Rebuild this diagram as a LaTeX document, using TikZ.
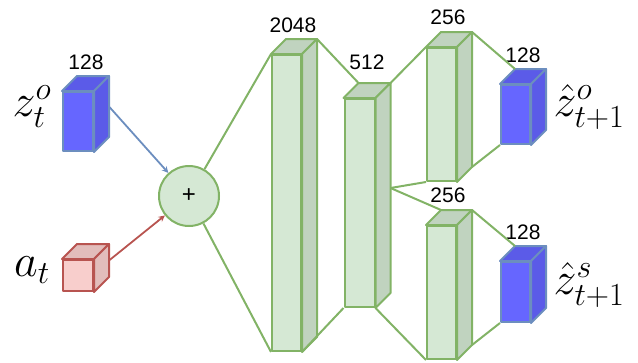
\RequirePackage{fix-cm}
\documentclass[tikz,border=0pt]{standalone}
\usepackage[no-math]{fontspec}
\setmainfont{Liberation Sans}
\usepackage{tikz}
\usetikzlibrary{arrows}
\usepackage{amsmath}

\definecolor{layerline}{HTML}{82B366}
\definecolor{layerfill}{HTML}{D5E8D4}
\definecolor{layerside}{HTML}{C0D3BF}
\definecolor{embline}{HTML}{6C8EBF}
\definecolor{embfill}{HTML}{6666FF}
\definecolor{embside}{HTML}{5B5BE8}
\definecolor{actline}{HTML}{B85450}
\definecolor{actfill}{HTML}{F8CECC}
\definecolor{actside}{HTML}{E2BDBB}

% #1 name, #2 centre of front face, #3 width, #4 height, #5 style
\newcommand{\block}[5]{
    \node[#5, minimum width=#3, minimum height=#4] (#1) at (#2) {};
    \coordinate (#1-tl) at ([shift={(15,-15)}]#1.north west);
    \coordinate (#1-tr) at ([shift={(15,-15)}]#1.north east);
    \coordinate (#1-br) at ([shift={(15,-15)}]#1.south east);
    \coordinate (#1-r) at ([shift={(15,-15)}]#1.east);
    \draw[#5 side] (#1.north west) -- (#1-tl) -- (#1-tr) -- (#1.north east) -- cycle;
    \draw[#5 side] (#1.north east) -- (#1-tr) -- (#1-br) -- (#1.south east) -- cycle;
}

\begin{document}
\begin{tikzpicture}[
            x = 1pt, y = -1pt, % pixel grid of the figure
            > = stealth, % arrow head style
            line join = round
        ]

        \tikzstyle{layer}=[draw = layerline, fill = layerfill, line width = 2pt, inner sep = 0pt]
        \tikzstyle{layer side}=[draw = layerline, fill = layerside, line width = 2pt]
        \tikzstyle{emb}=[draw = embline, fill = embfill, line width = 2pt, inner sep = 0pt]
        \tikzstyle{emb side}=[draw = embline, fill = embside, line width = 2pt]
        \tikzstyle{act}=[draw = actline, fill = actfill, line width = 2pt, inner sep = 0pt]
        \tikzstyle{act side}=[draw = actline, fill = actside, line width = 2pt]
        \tikzstyle{link}=[layerline, line width = 2pt]
        \tikzstyle{dim}=[font = \fontsize{21}{25}\selectfont]
        \tikzstyle{var}=[font = \fontsize{46}{50}\selectfont]

        \useasboundingbox (0,0) rectangle (638,362);

        % inputs
        \block{zo}{78,121.5}{30}{59}{emb}
        \block{at}{78,275.5}{30}{31}{act}
        \node[dim] (zodim) at (86,62) {128};
        \node[var] (zolab) at (32,107) {$z^{o}_{t}$};
        \node[var] (atlab) at (32,270) {$a_{t}$};

        \node[circle, layer, minimum size = 60pt, font = \fontsize{24}{28}\selectfont] (sum) at (189,196) {+};

        % hidden layers
        \block{h1}{286.5,203}{29}{296}{layer}
        \block{h2}{359.5,203}{30}{208}{layer}
        \block{h3}{441.5,114.5}{29}{133}{layer}
        \block{h4}{441.5,292.5}{29}{133}{layer}
        \node[dim] (h1dim) at (293,25) {2048};
        \node[dim] (h2dim) at (367,62) {512};
        \node[dim] (h3dim) at (448,17) {256};
        \node[dim] (h4dim) at (448,195) {256};

        % outputs
        \block{zo1}{515.5,114.5}{29}{59}{emb}
        \block{zs1}{515.5,292}{29}{60}{emb}
        \node[dim] (zo1dim) at (523,55) {128};
        \node[dim] (zs1dim) at (523,232) {128};
        \node[var] (zo1lab) at (589,107) {$\hat{z}^{o}_{t+1}$};
        \node[var] (zs1lab) at (589,285) {$\hat{z}^{s}_{t+1}$};

        \draw[->, embline, line width = 1.8pt] (zo-r) -- (sum);
        \draw[->, actline, line width = 1.8pt] (at-r) -- (sum);

        \draw[link] (sum) -- (h1.north west);
        \draw[link] (sum) -- (h1.south west);
        \draw[link] (h1-tr) -- (h2-tl);
        \draw[link] (h1.south east) -- (h2.south west);
        \draw[link] (h2-tr) -- (h3.north west);
        \draw[link] (h2-r) -- (h3.south west);
        \draw[link] (h2-r) -- (h4-tl);
        \draw[link] (h2.south east) -- (h4.south west);
        \draw[link] (h3-tr) -- (zo1-tl);
        \draw[link] (h3-br) -- (zo1.south west);
        \draw[link] (h4-tr) -- (zs1-tl);
        \draw[link] (h4-br) -- (zs1.south west);
    \end{tikzpicture}
\end{document}
